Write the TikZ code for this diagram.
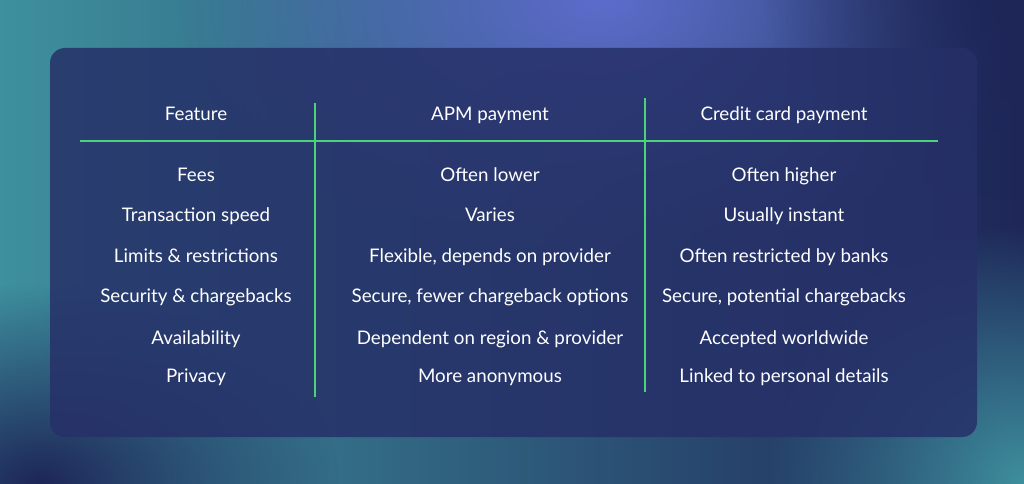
\documentclass[tikz,border=0pt]{standalone}
\usepackage{fontspec}
\setmainfont{Lato}
\usepackage{tikz}
\usetikzlibrary{fadings}
\definecolor{bgteal}{HTML}{3E909E}
\definecolor{bgnavy}{HTML}{1E2658}
\definecolor{bgblue}{HTML}{5D6CCC}
\definecolor{panel}{HTML}{263068}
\definecolor{rule}{HTML}{4CD27A}
\tikzfading[name=softglow, inner color=transparent!0, outer color=transparent!100]
\tikzset{cell/.style={text=white, font=\fontsize{16}{18}\selectfont, inner sep=0pt,
    text height=1.6ex, text depth=0.45ex, yshift=-0.08cm}}

\begin{document}
\begin{tikzpicture}[x=0.03cm, y=-0.03cm]
      \useasboundingbox (0,0) rectangle (1024,484);
      \shade[left color=bgteal, right color=bgnavy] (0,0) rectangle (1024,484);
      \fill[bgblue, path fading=softglow] (600,0) ellipse (420 and 260);
      \fill[bgnavy, path fading=softglow] (40,484) ellipse (300 and 200);
      \fill[bgteal, path fading=softglow] (1024,484) ellipse (260 and 260);
      \fill[bgnavy, path fading=softglow] (1024,0) ellipse (260 and 200);
      \fill[panel, opacity=0.85, rounded corners=0.45cm] (50,48) rectangle (977,437);

      \node[cell] (hf) at (196,114) {Feature};
      \node[cell] (ha) at (490,114) {APM payment};
      \node[cell] (hc) at (784,114) {Credit card payment};

      \coordinate (rl) at (80,141);
      \coordinate (rr) at (938,141);
      \coordinate (v1t) at (315,103);
      \coordinate (v1b) at (315,397);
      \coordinate (v2t) at (645,98);
      \coordinate (v2b) at (645,392);
      \draw[rule, line width=1.2pt] (rl) -- (rr);
      \draw[rule, line width=1.2pt] (v1t) -- (v1b);
      \draw[rule, line width=1.2pt] (v2t) -- (v2b);

      \node[cell] (f1) at (196,175) {Fees};
      \node[cell] (a1) at (490,175) {Often lower};
      \node[cell] (c1) at (784,175) {Often higher};

      \node[cell] (f2) at (196,215) {Transaction speed};
      \node[cell] (a2) at (490,215) {Varies};
      \node[cell] (c2) at (784,215) {Usually instant};

      \node[cell] (f3) at (196,256) {Limits \& restrictions};
      \node[cell] (a3) at (490,256) {Flexible, depends on provider};
      \node[cell] (c3) at (784,256) {Often restricted by banks};

      \node[cell] (f4) at (196,296) {Security \& chargebacks};
      \node[cell] (a4) at (490,296) {Secure, fewer chargeback options};
      \node[cell] (c4) at (784,296) {Secure, potential chargebacks};

      \node[cell] (f5) at (196,338) {Availability};
      \node[cell] (a5) at (490,338) {Dependent on region \& provider};
      \node[cell] (c5) at (784,338) {Accepted worldwide};

      \node[cell] (f6) at (196,376) {Privacy};
      \node[cell] (a6) at (490,376) {More anonymous};
      \node[cell] (c6) at (784,376) {Linked to personal details};
\end{tikzpicture}
\end{document}
